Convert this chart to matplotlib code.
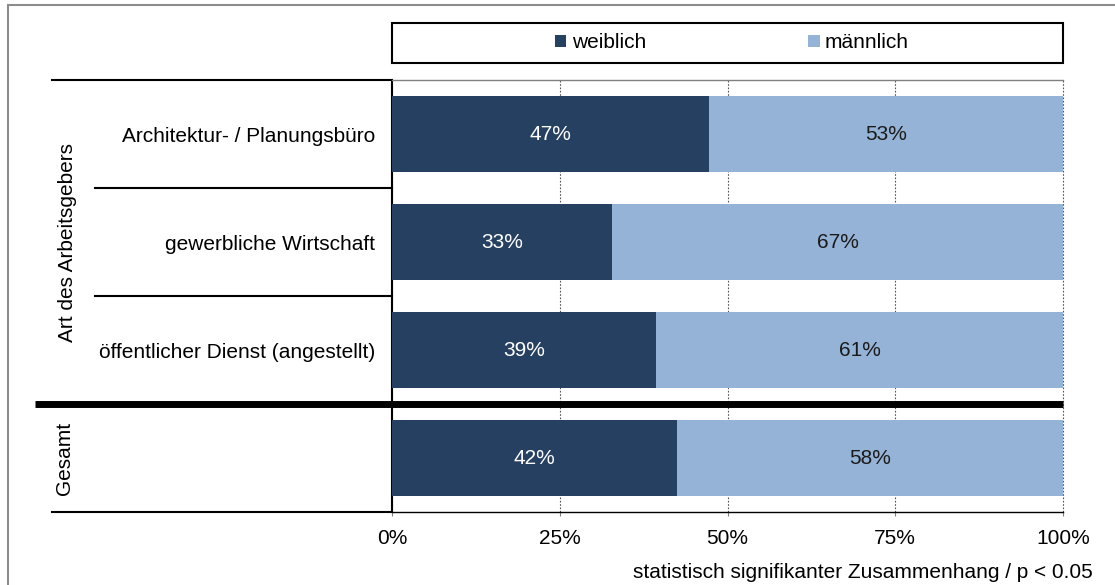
import matplotlib.pyplot as plt
from matplotlib.patches import Rectangle

plt.rcParams['font.family'] = ['Liberation Sans', 'DejaVu Sans']

# data (percent)
categories = ["Architektur- / Planungsbüro", "gewerbliche Wirtschaft",
              "öffentlicher Dienst (angestellt)", ""]
weiblich = [47.3, 32.8, 39.4, 42.4]
maennlich = [52.7, 67.2, 60.6, 57.6]
series_names = ["weiblich", "männlich"]
x_ticks = [0, 25, 50, 75, 100]
x_ticklabels = ["0%", "25%", "50%", "75%", "100%"]
group_labels = ["Art des Arbeitsgebers", "Gesamt"]
footnote = "statistisch signifikanter Zusammenhang / p < 0.05"

dark = "#264061"
light = "#95B3D7"
fs = 15

W, H = 1115, 585
fig = plt.figure(figsize=(W / 100, H / 100), dpi=100)
ax = fig.add_axes([392 / W, 1 - 512 / H, 671 / W, 432 / H])

y = list(range(len(categories)))
b1 = ax.barh(y, weiblich, height=0.7, color=dark, zorder=3)
b2 = ax.barh(y, maennlich, left=weiblich, height=0.7, color=light, zorder=3)
ax.bar_label(b1, labels=[f"{round(v)}%" for v in weiblich], label_type="center",
             color="white", fontsize=fs)
ax.bar_label(b2, labels=[f"{round(v)}%" for v in maennlich], label_type="center",
             color="#1a1a1a", fontsize=fs)

ax.set_xlim(0, 100)
ax.set_ylim(len(categories) - 0.5, -0.5)
ax.set_xticks(x_ticks)
ax.set_xticklabels(x_ticklabels, fontsize=fs)
ax.set_yticks(y)
ax.set_yticklabels(categories, fontsize=fs)
ax.tick_params(axis="y", length=0, pad=12)
ax.tick_params(axis="x", length=3, color="#808080", pad=9)

ax.xaxis.grid(True, linestyle=(0, (1.5, 1.5)), color="#555555", lw=0.8, zorder=1)
for gl in ax.get_xgridlines():
    gl.set_clip_on(False)

ax.spines["right"].set_visible(False)
ax.spines["top"].set_color("#808080")
ax.spines["top"].set_linewidth(1.0)
ax.spines["left"].set_linewidth(1.5)
ax.spines["bottom"].set_linewidth(1.0)

# left side structure lines (x in axes coords, y in data coords)
tr = ax.get_yaxis_transform()
x_outer = (52 - 392) / 671
x_inner = (95 - 392) / 671
x_thick = (35 - 392) / 671
ax.plot([x_outer, 0], [-0.5, -0.5], transform=tr, clip_on=False, color="black", lw=1.5)
ax.plot([x_outer, 0], [3.5, 3.5], transform=tr, clip_on=False, color="black", lw=1.5)
for yy in [0.5, 1.5]:
    ax.plot([x_inner, 0], [yy, yy], transform=tr, clip_on=False, color="black", lw=1.5)
ax.plot([x_thick, 1], [2.5, 2.5], transform=tr, clip_on=False, color="black", lw=5,
        solid_capstyle="butt", zorder=5)

ax.text((68 - 392) / 671, 1.0, group_labels[0], transform=tr, rotation=90,
        ha="center", va="center", fontsize=fs)
ax.text((65 - 392) / 671, 3.0, group_labels[1], transform=tr, rotation=90,
        ha="center", va="center", fontsize=fs)

# legend box
fig.add_artist(Rectangle((392 / W, 1 - 63 / H), 671 / W, 40 / H, transform=fig.transFigure,
                         facecolor="none", edgecolor="black", lw=1.5))
fig.legend([b1, b2], series_names, loc="center", bbox_to_anchor=(732 / W, 1 - 43 / H),
           ncol=2, frameon=False, fontsize=fs, handlelength=0.55, handleheight=0.55,
           handletextpad=0.25, columnspacing=7.8)

fig.text(1093 / W, 1 - 572 / H, footnote, ha="right", va="center", fontsize=fs)

# outer gray border (cut off at right and bottom)
fig.add_artist(Rectangle((8 / W, -0.1), 1.2, 1.1 - 5 / H, transform=fig.transFigure,
                         facecolor="none", edgecolor="#8c8c8c", lw=1.5))

fig.savefig("out.png", dpi=100)
